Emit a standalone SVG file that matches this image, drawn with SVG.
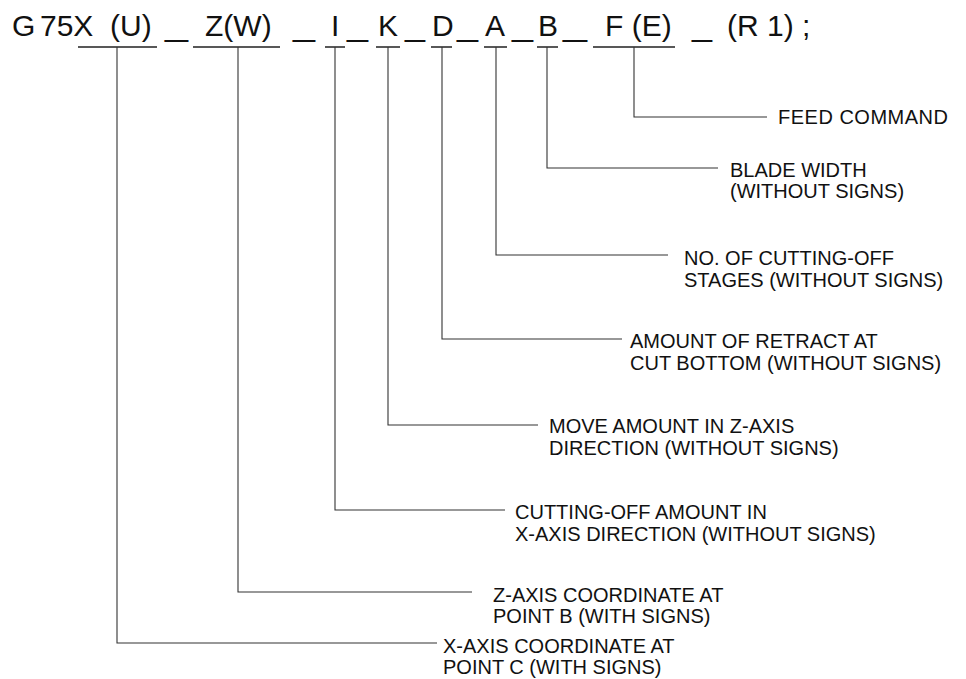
<svg xmlns="http://www.w3.org/2000/svg" width="966" height="679" viewBox="0 0 966 679">
<style>
.hd{font-family:"Liberation Sans",Arial,sans-serif;font-size:30px;fill:#111}
.lb{font-family:"Liberation Sans",Arial,sans-serif;font-size:20px;fill:#111}
.bar{stroke:#222;stroke-width:1.6;fill:none}
.ln{stroke:#333;stroke-width:1.1;fill:none}
</style>
<rect width="966" height="679" fill="#fff"/>
<g id="command">
<text class="hd" x="12" y="36">G</text>
<text class="hd" x="40" y="36">75X</text>
<text class="hd" x="110" y="36">(U)</text>
<text class="hd" x="165" y="36" textLength="23" lengthAdjust="spacingAndGlyphs">_</text>
<text class="hd" x="205" y="36">Z(W)</text>
<text class="hd" x="293" y="36" textLength="22" lengthAdjust="spacingAndGlyphs">_</text>
<text class="hd" x="331" y="36">I</text>
<text class="hd" x="347" y="36" textLength="21" lengthAdjust="spacingAndGlyphs">_</text>
<text class="hd" x="378" y="36">K</text>
<text class="hd" x="405" y="36" textLength="20" lengthAdjust="spacingAndGlyphs">_</text>
<text class="hd" x="432" y="36">D</text>
<text class="hd" x="457" y="36" textLength="21" lengthAdjust="spacingAndGlyphs">_</text>
<text class="hd" x="485" y="36">A</text>
<text class="hd" x="512" y="36" textLength="21" lengthAdjust="spacingAndGlyphs">_</text>
<text class="hd" x="538" y="36">B</text>
<text class="hd" x="563" y="36" textLength="24" lengthAdjust="spacingAndGlyphs">_</text>
<text class="hd" x="605" y="36">F (E)</text>
<text class="hd" x="692" y="36" textLength="20" lengthAdjust="spacingAndGlyphs">_</text>
<text class="hd" x="727" y="36">(R 1) ;</text>
</g>
<g id="connectors">
<path class="bar" d="M78 47H157M193 47H280M325 47H345M376 47H400M431 47H452M484 47H507M537 47H558M593 47H675"/>
<path class="ln" d="M634 47V117H767"/>
<path class="ln" d="M547 47V168H718"/>
<path class="ln" d="M496 47V255H668"/>
<path class="ln" d="M442 47V339H622"/>
<path class="ln" d="M388 47V425H538"/>
<path class="ln" d="M335 47V510H505"/>
<path class="ln" d="M238 47V592H472"/>
<path class="ln" d="M117 47V643H437"/>
</g>
<g id="feed"><text class="lb" x="778" y="124" textLength="170">FEED COMMAND</text></g>
<g id="blade"><text class="lb" x="730" y="177">BLADE WIDTH</text><text class="lb" x="730" y="198">(WITHOUT SIGNS)</text></g>
<g id="stages"><text class="lb" x="684" y="265">NO. OF CUTTING-OFF</text><text class="lb" x="684" y="287">STAGES (WITHOUT SIGNS)</text></g>
<g id="retract"><text class="lb" x="630" y="348">AMOUNT OF RETRACT AT</text><text class="lb" x="630" y="370">CUT BOTTOM (WITHOUT SIGNS)</text></g>
<g id="zmove"><text class="lb" x="549" y="433">MOVE AMOUNT IN Z-AXIS</text><text class="lb" x="549" y="455">DIRECTION (WITHOUT SIGNS)</text></g>
<g id="xcut"><text class="lb" x="515" y="519">CUTTING-OFF AMOUNT IN</text><text class="lb" x="515" y="541">X-AXIS DIRECTION (WITHOUT SIGNS)</text></g>
<g id="zcoord"><text class="lb" x="493" y="602">Z-AXIS COORDINATE AT</text><text class="lb" x="493" y="623">POINT B (WITH SIGNS)</text></g>
<g id="xcoord"><text class="lb" x="443" y="653">X-AXIS COORDINATE AT</text><text class="lb" x="443" y="674">POINT C (WITH SIGNS)</text></g>
</svg>
